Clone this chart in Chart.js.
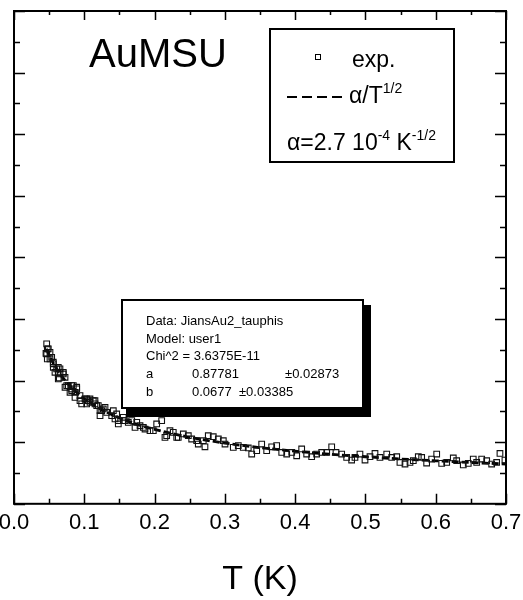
<!DOCTYPE html>
<html>
<head>
<meta charset="utf-8">
<script src="https://cdn.jsdelivr.net/npm/chart.js@4.4.1/dist/chart.umd.min.js"></script>
<style>
  html, body { margin: 0; padding: 0; background: #fff; }
  canvas { display: block; }
</style>
</head>
<body>
<canvas id="chart" width="523" height="600"></canvas>
<script>
// measured points: temperature (K) and tau_phi (units of 1e-4)
const tempK = [
  0.0455, 0.0465, 0.0465, 0.0474, 0.0474, 0.0488, 0.0512, 0.0512, 0.0536, 0.0559,
  0.0559, 0.0559, 0.0583, 0.0607, 0.0630, 0.0630, 0.0630, 0.0644, 0.0654, 0.0654,
  0.0701, 0.0701, 0.0726, 0.0726, 0.0750, 0.0773, 0.0797, 0.0821, 0.0821, 0.0821,
  0.0844, 0.0868, 0.0868, 0.0892, 0.0892, 0.0939, 0.0939, 0.0963, 0.1010, 0.1034,
  0.1034, 0.1057, 0.1081, 0.1081, 0.1128, 0.1152, 0.1152, 0.1177, 0.1199, 0.1224,
  0.1224, 0.1248, 0.1270, 0.1295, 0.1319, 0.1390, 0.1413, 0.1437, 0.1461, 0.1484,
  0.1484, 0.1555, 0.1555, 0.1579, 0.1626, 0.1675, 0.1722, 0.1746, 0.1793, 0.1840,
  0.1864, 0.1935, 0.1982, 0.2030, 0.2101, 0.2148, 0.2172, 0.2219, 0.2266, 0.2315,
  0.2337, 0.2409, 0.2480, 0.2528, 0.2599, 0.2622, 0.2693, 0.2717, 0.2764, 0.2835,
  0.2907, 0.2978, 0.3002, 0.3120, 0.3191, 0.3262, 0.3333, 0.3382, 0.3453, 0.3524,
  0.3595, 0.3666, 0.3737, 0.3809, 0.3880, 0.3951, 0.4022, 0.4093, 0.4164, 0.4235,
  0.4306, 0.4378, 0.4449, 0.4520, 0.4581, 0.4662, 0.4733, 0.4804, 0.4851, 0.4922,
  0.4994, 0.5065, 0.5136, 0.5207, 0.5303, 0.5374, 0.5445, 0.5491, 0.5563, 0.5634,
  0.5681, 0.5752, 0.5800, 0.5871, 0.5942, 0.6014, 0.6085, 0.6156, 0.6250, 0.6298,
  0.6392, 0.6463, 0.6534, 0.6583, 0.6654, 0.6725, 0.6796, 0.6867, 0.6914, 0.6985
];
const tauPhi = [
  12.20, 12.98, 12.17, 12.58, 11.76, 12.58, 12.30, 11.76, 11.89, 11.49,
  11.08, 11.36, 10.67, 10.95, 10.54, 10.14, 11.08, 10.22, 10.95, 10.67,
  10.67, 10.54, 10.27, 9.46, 9.59, 9.59, 9.05, 9.33, 9.59, 9.19,
  9.59, 8.64, 9.05, 9.33, 9.46, 8.37, 8.78, 8.11, 8.51, 8.51,
  8.11, 8.37, 8.51, 8.24, 8.37, 8.11, 8.37, 7.97, 7.97, 7.15,
  7.56, 7.56, 7.70, 7.83, 7.42, 7.15, 7.56, 6.89, 7.29, 6.48,
  6.75, 6.75, 7.02, 6.75, 6.61, 6.75, 6.20, 6.61, 6.34, 6.20,
  6.07, 5.93, 5.93, 6.48, 6.75, 5.39, 5.53, 5.93, 5.80, 5.39,
  5.39, 5.67, 5.53, 5.26, 5.12, 4.85, 5.12, 4.63, 5.53, 5.45,
  5.26, 5.12, 4.85, 4.58, 4.72, 4.58, 4.53, 4.04, 4.31, 4.85,
  4.31, 4.63, 4.72, 4.17, 4.04, 4.17, 3.90, 4.45, 4.04, 3.82,
  4.04, 4.17, 4.17, 4.63, 4.17, 4.04, 3.76, 3.55, 3.76, 4.04,
  3.55, 3.82, 4.09, 3.76, 4.04, 3.76, 3.82, 3.36, 3.23, 3.36,
  3.50, 3.82, 3.76, 3.31, 3.63, 4.04, 3.28, 3.36, 3.72, 3.50,
  3.15, 3.28, 3.63, 3.36, 3.63, 3.50, 3.23, 3.36, 4.09, 3.55
];

// alpha / T^(1/2), alpha = 2.7e-4 K^-1/2 (same 1e-4 units)
const fitT = [0.046, 0.05, 0.055, 0.06, 0.065, 0.07, 0.075, 0.08, 0.09, 0.1, 0.11, 0.12,
  0.13, 0.14, 0.16, 0.18, 0.2, 0.25, 0.3, 0.35, 0.4, 0.45, 0.5, 0.55, 0.6, 0.65, 0.7];
const fitY = [12.59, 12.07, 11.51, 11.02, 10.59, 10.21, 9.86, 9.55, 9.00, 8.54, 8.14, 7.79,
  7.49, 7.22, 6.75, 6.36, 6.04, 5.40, 4.93, 4.56, 4.27, 4.02, 3.82, 3.64, 3.49, 3.35, 3.23];

const FONT = '"Liberation Sans", Arial, sans-serif';

// draws a row of text pieces, some raised as superscripts
function textRuns(ctx, runs, x, y, size, supSize) {
  runs.forEach(r => {
    if (r.sup) {
      ctx.font = supSize + 'px ' + FONT;
      ctx.fillText(r.t, x, y - size * 0.45);
    } else {
      ctx.font = size + 'px ' + FONT;
      ctx.fillText(r.t, x, y);
    }
    x += ctx.measureText(r.t).width;
  });
}

const framePlugin = {
  id: 'frame',
  afterDraw(chart) {
    const { ctx, chartArea: a, scales: { x, y } } = chart;
    ctx.save();
    ctx.strokeStyle = '#000';
    ctx.fillStyle = '#000';

    // axis box
    ctx.lineWidth = 2;
    ctx.strokeRect(a.left, a.top, a.right - a.left, a.bottom - a.top);

    // inward ticks on all four sides
    ctx.lineWidth = 1.5;
    ctx.beginPath();
    x.ticks.forEach(t => {
      const px = Math.round(x.getPixelForValue(t.value)) + 0.5;
      const len = t.label ? 10 : 5;
      ctx.moveTo(px, a.bottom); ctx.lineTo(px, a.bottom - len);
      ctx.moveTo(px, a.top); ctx.lineTo(px, a.top + len - 1);
    });
    y.ticks.forEach(t => {
      const py = Math.round(y.getPixelForValue(t.value)) + 0.5;
      const len = Math.abs(t.value % 5) < 1e-6 ? 11 : 6;
      ctx.moveTo(a.left, py); ctx.lineTo(a.left + len, py);
      ctx.moveTo(a.right, py); ctx.lineTo(a.right - len, py);
    });
    ctx.stroke();

    // sample name
    ctx.textBaseline = 'alphabetic';
    ctx.textAlign = 'left';
    ctx.font = '40px ' + FONT;
    ctx.fillText('AuMSU', 89, 67);

    // legend box
    ctx.lineWidth = 2;
    ctx.strokeRect(270, 29, 184, 133);
    ctx.lineWidth = 1;
    ctx.strokeRect(315.5, 54.5, 5, 5);
    ctx.font = '23px ' + FONT;
    ctx.fillText('exp.', 352, 67);
    ctx.lineWidth = 2;
    ctx.setLineDash([10, 5]);
    ctx.beginPath();
    ctx.moveTo(287, 97); ctx.lineTo(344, 97);
    ctx.stroke();
    ctx.setLineDash([]);
    textRuns(ctx, [{ t: '\u03b1/T' }, { t: '1/2', sup: true }], 349, 103, 23, 14);
    textRuns(ctx, [{ t: '\u03b1=2.7 10' }, { t: '-4', sup: true }, { t: ' K' }, { t: '-1/2', sup: true }],
      287, 150, 23, 14);

    // fit report with drop shadow
    ctx.fillRect(126, 305, 245, 112);
    ctx.fillStyle = '#fff';
    ctx.fillRect(122, 300, 241, 108);
    ctx.lineWidth = 2;
    ctx.strokeRect(122, 300, 241, 108);
    ctx.fillStyle = '#000';
    ctx.font = '13px ' + FONT;
    ctx.fillText('Data: JiansAu2_tauphis', 146, 325);
    ctx.fillText('Model: user1', 146, 342.7);
    ctx.fillText('Chi^2 = 3.6375E-11', 146, 360.4);
    ctx.fillText('a', 146, 378.1);
    ctx.fillText('0.87781', 192, 378.1);
    ctx.fillText('\u00b10.02873', 285, 378.1);
    ctx.fillText('b', 146, 395.8);
    ctx.fillText('0.0677  \u00b10.03385', 192, 395.8);
    ctx.restore();
  }
};

new Chart(document.getElementById('chart'), {
  type: 'scatter',
  data: {
    datasets: [
      {
        data: tempK.map((t, i) => ({ x: t, y: tauPhi[i] })),
        pointStyle: 'rect',
        pointRadius: 4,
        pointBorderWidth: 1.1,
        borderColor: '#111',
        backgroundColor: 'rgba(0,0,0,0)'
      },
      {
        type: 'line',
        data: fitT.map((t, i) => ({ x: t, y: fitY[i] })),
        borderColor: '#000',
        borderWidth: 2.8,
        borderDash: [7, 3],
        pointRadius: 0,
        fill: false,
        cubicInterpolationMode: 'monotone'
      }
    ]
  },
  options: {
    responsive: false,
    animation: false,
    devicePixelRatio: 1,
    plugins: { legend: { display: false }, tooltip: { enabled: false } },
    layout: { padding: { left: 14, top: 11, right: 17, bottom: 0 } },
    scales: {
      x: {
        type: 'linear',
        min: 0,
        max: 0.7,
        afterFit(s) { s.paddingLeft = 0; s.paddingRight = 0; },
        grid: { display: false, drawTicks: false },
        border: { display: false },
        ticks: {
          stepSize: 0.05,
          autoSkip: false,
          maxRotation: 0,
          padding: 6,
          color: '#000',
          font: { size: 22, family: FONT },
          callback(v) {
            const s = v.toFixed(1);
            return Math.abs(v - Number(s)) < 1e-6 ? s : '';
          }
        },
        title: {
          display: true,
          text: 'T (K)',
          color: '#000',
          font: { size: 34, family: FONT },
          padding: { top: 17, bottom: 0 }
        }
      },
      y: {
        min: 0,
        max: 40,
        grid: { display: false, drawTicks: false },
        border: { display: false },
        ticks: { stepSize: 2.5, display: false }
      }
    }
  },
  plugins: [framePlugin]
});
</script>
</body>
</html>
